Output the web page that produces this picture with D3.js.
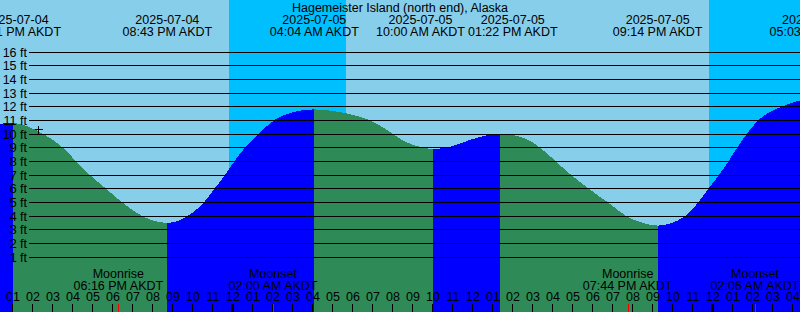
<!DOCTYPE html>
<meta charset="utf-8">
<body style="margin:0">
  <svg id="chart" width="800" height="312"></svg>
</body>

<style>
svg text {
  font-family: "Liberation Sans", Arial, sans-serif;
  font-size: 12.5px;
  fill: #000;
}
</style>

<script src="https://d3js.org/d3.v7.min.js"></script>
<script>

var stationName = "Hagemeister Island (north end), Alaska";
var startTime = "2025-07-04 12:21",
    endTime = "2025-07-06 04:21";

// high / low tides (AKDT), as printed on top
var extremeTimes = ["2025-07-04 13:11", "2025-07-04 20:43", "2025-07-05 04:04", "2025-07-05 10:00",
                    "2025-07-05 13:22", "2025-07-05 21:14", "2025-07-06 05:03"];

// water level
var curveTimes = [
  "2025-07-04 12:21", "2025-07-04 13:01", "2025-07-04 14:30", "2025-07-04 15:30", "2025-07-04 16:09",
  "2025-07-04 16:51", "2025-07-04 17:39", "2025-07-04 18:27", "2025-07-04 19:27", "2025-07-04 20:43",
  "2025-07-04 21:41", "2025-07-04 22:21", "2025-07-04 22:33", "2025-07-04 23:03", "2025-07-04 23:36",
  "2025-07-05 00:04", "2025-07-05 00:36", "2025-07-05 01:16", "2025-07-05 02:06", "2025-07-05 03:00",
  "2025-07-05 04:04", "2025-07-05 05:00", "2025-07-05 06:00", "2025-07-05 06:51", "2025-07-05 08:00",
  "2025-07-05 08:21", "2025-07-05 09:11", "2025-07-05 10:00", "2025-07-05 10:51", "2025-07-05 11:41",
  "2025-07-05 12:31", "2025-07-05 13:22", "2025-07-05 14:11", "2025-07-05 15:01", "2025-07-05 15:51",
  "2025-07-05 16:41", "2025-07-05 17:31", "2025-07-05 18:21", "2025-07-05 18:45", "2025-07-05 19:39",
  "2025-07-05 20:30", "2025-07-05 21:14", "2025-07-05 21:51", "2025-07-05 22:36", "2025-07-05 23:16",
  "2025-07-05 23:46", "2025-07-06 00:18", "2025-07-06 00:46", "2025-07-06 01:13", "2025-07-06 01:41",
  "2025-07-06 02:16", "2025-07-06 03:26", "2025-07-06 04:21", "2025-07-06 05:03"];
var curveFeet = [
  10.75, 10.8, 10.0, 9.0, 8.0,
  7.0, 6.0, 5.0, 4.0, 3.5,
  3.95, 4.7, 5.0, 5.95, 7.0,
  8.0, 9.0, 10.0, 11.05, 11.6,
  11.8, 11.68, 11.4, 11.0, 10.0,
  9.65, 9.12, 8.9, 9.07, 9.48,
  9.85, 10.0, 9.87, 9.36, 8.38,
  7.28, 6.3, 5.4, 5.0, 4.0,
  3.49, 3.3, 3.45, 4.0, 5.0,
  6.0, 7.0, 8.0, 9.0, 10.0,
  11.0, 12.0, 12.46, 12.6];

// sunset -> sunrise
var nightStarts = ["2025-07-04 23:48", "2025-07-05 23:48"];
var nightEnds = ["2025-07-05 05:39", "2025-07-06 05:41"];

var moonEvents = ["Moonrise", "Moonset", "Moonrise", "Moonset"];
var moonTimes = ["2025-07-04 18:16", "2025-07-05 02:00", "2025-07-05 19:44", "2025-07-06 02:06"];

var footTicks = [1, 2, 3, 4, 5, 6, 7, 8, 9, 10, 11, 12, 13, 14, 15, 16];

// current-time marker
var nowTime = "2025-07-04 14:14", nowFeet = 10.35;

var parse = d3.utcParse("%Y-%m-%d %H:%M");
var fmtDate = d3.utcFormat("%Y-%m-%d"),
    fmtTime = d3.utcFormat("%I:%M %p"),
    fmtHour = d3.utcFormat("%I");

var svg = d3.select("#chart"),
    width = 800,
    height = 312;

var x = d3.scaleUtc().domain([parse(startTime), parse(endTime)]).range([0, width]);
var y = d3.scaleLinear().domain([0, 16]).range([270.67, 52]);

// sky
svg.append("rect")
    .attr("width", width).attr("height", height)
    .attr("fill", "#87ceeb");

svg.append("g")
  .selectAll("rect")
  .data(nightStarts)
  .enter().append("rect")
    .attr("x", (d, i) => x(parse(d)))
    .attr("width", (d, i) => x(parse(nightEnds[i])) - x(parse(d)))
    .attr("y", 0).attr("height", height)
    .attr("fill", "#00bfff")
    .attr("shape-rendering", "crispEdges");

// water, blue while rising, green while falling
var tide = curveTimes.map((t, i) => ({t: parse(t), ft: curveFeet[i]}));
var area = d3.area()
    .x(d => x(d.t))
    .y0(height)
    .y1(d => y(d.ft))
    .curve(d3.curveMonotoneX);

// split the curve where it turns
var segs = [], segStart = tide[0].t, dir = tide[1].ft > tide[0].ft;
for (var i = 1; i < tide.length; i++) {
  var up = tide[i].ft > tide[i - 1].ft;
  if (up !== dir) {
    segs.push({t0: segStart, t1: tide[i - 1].t, rising: dir});
    segStart = tide[i - 1].t;
    dir = up;
  }
}
segs.push({t0: segStart, t1: tide[tide.length - 1].t, rising: dir});
// the part left of the first point is still rising
segs.unshift({t0: x.invert(-5), t1: tide[0].t, rising: true});

var defs = svg.append("defs");
segs.forEach((s, i) => {
  defs.append("clipPath").attr("id", "seg" + i)
    .append("rect")
      .attr("x", Math.round(x(s.t0)))
      .attr("width", Math.round(x(s.t1)) - Math.round(x(s.t0)))
      .attr("y", 0).attr("height", height);
});

svg.append("g")
  .selectAll("path")
  .data(segs)
  .enter().append("path")
    .attr("clip-path", (d, i) => "url(#seg" + i + ")")
    .attr("d", area(tide))
    .attr("fill", d => d.rising ? "#0000ff" : "#2e8b57")
    .attr("shape-rendering", "crispEdges");

// depth lines and labels
var grid = svg.append("g");
grid.selectAll("line")
  .data(footTicks)
  .enter().append("line")
    .attr("x1", 29).attr("x2", width)
    .attr("y1", d => Math.floor(y(d)) + 0.5)
    .attr("y2", d => Math.floor(y(d)) + 0.5)
    .attr("stroke", "#000")
    .attr("shape-rendering", "crispEdges");

grid.selectAll("text")
  .data(footTicks)
  .enter().append("text")
    .attr("x", 27)
    .attr("y", d => Math.floor(y(d)) + 5)
    .attr("text-anchor", "end")
    .text(d => d + " ft");

// now marker
var nx = Math.round(x(parse(nowTime))) + 0.5,
    ny = Math.round(y(nowFeet)) + 0.5;
svg.append("path")
    .attr("d", "M" + (nx - 4) + "," + ny + "H" + (nx + 4) + "M" + nx + "," + (ny - 4) + "V" + (ny + 4))
    .attr("stroke", "#000")
    .attr("shape-rendering", "crispEdges");

// title + hi/lo labels
svg.append("text")
    .attr("x", width / 2).attr("y", 11.5)
    .attr("text-anchor", "middle")
    .text(stationName);

var hilo = svg.append("g")
  .selectAll("g")
  .data(extremeTimes)
  .enter().append("g");
hilo.append("text")
    .attr("y", 23.5).attr("text-anchor", "middle")
    .text(d => fmtDate(parse(d)));
hilo.append("text")
    .attr("class", "tm")
    .attr("y", 36).attr("text-anchor", "middle")
    .text(d => fmtTime(parse(d)) + " AKDT");

// push neighbouring labels apart when they collide
var pos = extremeTimes.map(d => x(parse(d)));
var widths = hilo.select("text.tm").nodes().map(n => n.getComputedTextLength());
for (var i = 1; i < pos.length; i++) {
  var need = (widths[i - 1] + widths[i]) / 2 + 3;
  var gap = pos[i] - pos[i - 1];
  if (gap < need) {
    pos[i - 1] -= (need - gap) / 2;
    pos[i] += (need - gap) / 2;
  }
}
hilo.attr("transform", (d, i) => "translate(" + pos[i] + ",0)");

// moon
var moon = svg.append("g")
  .selectAll("g")
  .data(moonTimes)
  .enter().append("g")
    .attr("transform", d => "translate(" + x(parse(d)) + ",0)");
moon.append("text")
    .attr("y", 278).attr("text-anchor", "middle")
    .text((d, i) => moonEvents[i]);
moon.append("text")
    .attr("y", 289.5).attr("text-anchor", "middle")
    .text(d => fmtTime(parse(d)) + " AKDT");

// hour axis
var hours = x.ticks(d3.utcHour.every(1));
var axis = svg.append("g");
axis.selectAll("text")
  .data(hours)
  .enter().append("text")
    .attr("x", d => x(d))
    .attr("y", 300.5)
    .attr("text-anchor", "middle")
    .text(d => fmtHour(d));

axis.selectAll("line.hour")
  .data(hours)
  .enter().append("line")
    .attr("class", "hour")
    .attr("x1", d => x(d) - 0.5).attr("x2", d => x(d) - 0.5)
    .attr("y1", 304).attr("y2", height)
    .attr("stroke", "#000")
    .attr("stroke-width", d => d.getUTCHours() === 0 ? 3 : 1)
    .attr("shape-rendering", "crispEdges");

axis.selectAll("line.moon")
  .data(moonTimes)
  .enter().append("line")
    .attr("class", "moon")
    .attr("x1", d => x(parse(d)) + 0.5).attr("x2", d => x(parse(d)) + 0.5)
    .attr("y1", 304).attr("y2", height)
    .attr("stroke", "#ff0000")
    .attr("shape-rendering", "crispEdges");

</script>
